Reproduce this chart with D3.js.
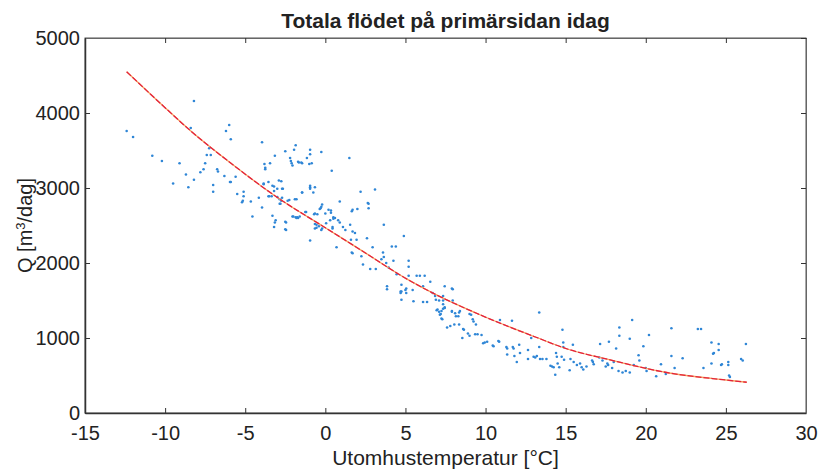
<!DOCTYPE html>
<html>
<head>
<meta charset="utf-8">
<script src="https://cdn.jsdelivr.net/npm/d3@7"></script>
<style>
  body { margin: 0; background: #fff; }
  svg { display: block; font-family: "Liberation Sans", Arial, sans-serif; }
</style>
</head>
<body>
<div id="chart"></div>
<script>
const temp = [
  -12.4, -12.0, -10.8, -10.2, -9.1, -9.5, -8.7, -8.55, -8.2, -8.4, -8.2, -7.8, -7.6, -7.5, -7.4, -7.15,
  -7.25, -7.0, -7.0, -6.75, -6.7, -6.3, -6.2, -6.0, -5.9, -5.9, -5.6, -5.5, -5.1, -5.2, -5.1, -4.65,
  -4.55, -4.15, -3.95, -3.95, -3.8, -3.75, -3.85, -3.5, -3.35, -3.3, -3.2, -3.15, -3.2, -3.15, -2.9, -2.65,
  -2.85, -2.75, -2.5, -2.45, -2.45, -2.35, -2.15, -2.2, -2.1, -2.05, -1.85, -1.9, -1.85, -1.75, -1.65, -1.45,
  -1.45, -1.2, -1.15, -1.0, -0.95, -0.95, -0.85, -0.95, -0.65, -0.75, -0.65, -0.65, -0.55, -0.3, -0.2, -0.25,
  0.0, 0.3, 0.35, 0.4, 0.5, 0.6, 0.8, 0.9, 1.5, 1.7, 2.0, 2.2, 2.65, 2.7, 3.1, 3.65,
  -1.95, -1.7, -1.5, -3.45, -3.75, -5.95, -5.15, -3.85, -3.55, -3.3, -3.2, -3.0, -2.75, -2.7, -3.55, -3.0,
  -2.85, -2.7, -2.8, -3.1, -2.5, -2.5, -2.25, -2.05, -1.8, -1.7, -1.6, -1.25, -0.7, -0.5, -0.65, -0.4,
  -0.2, -0.95, -0.95, -1.45, -0.25, -0.35, 0.2, 0.35, 0.5, 0.9, 0.05, 0.45, 0.45, -0.25, -0.55, -1.8,
  -2.0, -0.95, 1.1, 1.25, 1.65, 2.7, 1.55, 1.7, 1.85, 0.7, 1.65, 1.95, 2.6, 2.25, 2.35, 2.95,
  3.5, 3.65, 4.15, 4.4, 4.25, 2.8, 3.15, 4.9, 3.85, 3.85, 4.75, 4.75, 5.05, 5.05, 1.6, 1.7,
  3.6, 3.8, 3.95, 4.7, 4.75,
  5.2, 5.2, 5.2, 5.0, 5.45, 5.5, 5.7, 5.9, 6.2, 6.1, 6.55, 6.1, 6.35, 6.7, 6.9, 7.0,
  7.1, 7.2, 7.25, 7.35, 7.35, 7.45, 7.35, 7.45, 7.9, 7.95, 7.9, 8.1, 8.35, 7.6, 7.8, 8.3,
  8.05, 8.35, 8.55, 8.65, 8.9, 9.0, 9.1, 9.2, 9.25, 9.4, 9.5, 9.75, 9.95, 10.1, 10.45, 10.8,
  10.9, 11.65, 11.3, 11.35, 11.7, 11.8, 11.95, 12.1, 12.15, 12.65, 12.65, 12.85, 13.0, 13.1, 13.2, 13.35,
  13.35, 13.4, 13.55, 13.8, 4.45, 4.7, 6.85, 7.1, 7.35, 7.45, 7.95, 6.95, 7.25, 7.15, 7.3, 7.9,
  8.15, 8.4, 9.0, 8.6, 9.35, 9.85, 10.5, 10.85, 11.35, 11.75,
  14.05, 14.15, 14.25, 14.35, 14.4, 14.45, 14.5, 14.6, 14.8, 14.85, 14.85, 14.75, 14.9, 15.25, 15.3, 15.45,
  15.5, 15.7, 15.9, 16.0, 16.1, 16.3, 16.65, 16.75, 16.7, 17.15, 17.1, 17.3, 17.5, 17.6, 17.7, 17.65,
  17.9, 18.0, 18.15, 18.35, 18.35, 18.3, 18.55, 18.75, 19.0, 19.0, 19.15, 19.25, 19.55, 19.6, 19.85, 20.0,
  20.05, 20.2, 20.65, 20.95, 21.25, 21.6, 21.6, 21.8, 22.3, 23.25, 23.45, 23.6, 24.1, 24.2, 24.25, 24.1,
  24.55, 24.55, 24.7, 24.75, 25.15, 25.15, 25.25, 25.2, 25.95, 26.05, 26.25
];
const flow = [
  3760, 3680, 3430, 3360, 3330, 3060, 3180, 3010, 4160, 3800, 3110, 3210, 3250, 3330, 3440, 3440,
  3530, 3040, 2950, 3250, 3220, 3160, 3760, 3840, 3650, 3080, 3150, 2920, 2950, 2810, 2890, 2820,
  2620, 2870, 3610, 2740, 3320, 3270, 3050, 2890, 2890, 2630, 2480, 2540, 3020, 3430, 3100, 2990,
  2790, 2830, 3490, 2540, 2440, 2830, 3360, 3400, 3330, 3300, 3570, 2850, 2610, 2610, 3340, 3330,
  2940, 2680, 3400, 3320, 3510, 3450, 3330, 3010, 3010, 2940, 2660, 2520, 2470, 2730, 2780, 3480,
  2660, 2570, 2700, 3230, 2610, 2600, 2570, 2820, 3400, 2710, 2720, 2950, 2800, 2730, 2980, 2510,
  3510, 3350, 3340, 3330, 3250, 3080, 2830, 3060, 3080, 3030, 2960, 2990, 3090, 2990, 2890, 2880,
  2850, 2870, 2790, 2570, 2550, 2450, 2840, 2620, 2850, 2600, 2620, 2680, 2650, 2650, 2460, 2490,
  2460, 3030, 2990, 2940, 2750, 2720, 2710, 2670, 2590, 2540, 2530, 2480, 2460, 2440, 2510, 2600,
  2620, 2300, 2480, 2440, 2690, 2790, 2510, 2420, 2400, 2210, 2140, 2310, 2330, 2090, 1980, 2210,
  2050, 2080, 2220, 2220, 2030, 1920, 1920, 2360, 1690, 1650, 1710, 1620, 1660, 1600, 2310, 2130,
  2140, 2000, 1940, 1620, 1510,
  2030, 1950, 1830, 1640, 1640, 1490, 1830, 1830, 1830, 1690, 1750, 1480, 1480, 1600, 1510, 1380,
  1350, 1320, 1260, 1390, 1450, 1410, 1500, 1690, 1660, 1500, 1350, 1330, 1340, 1140, 1160, 1290,
  1180, 1180, 1000, 1110, 1060, 1030, 1310, 1250, 1220, 1180, 1050, 1040, 940, 950, 900, 960,
  1240, 1230, 880, 780, 880, 760, 680, 910, 800, 840, 720, 1000, 750, 740, 760, 880,
  1340, 720, 720, 720, 1850, 1600, 1560, 1500, 1560, 1400, 1650, 1370, 1360, 1310, 1250, 1360,
  1290, 1360, 1320, 1120, 1050, 930, 890, 950, 860, 860,
  630, 620, 610, 510, 800, 750, 660, 610, 1110, 940, 880, 750, 710, 570, 720, 910,
  680, 640, 660, 610, 580, 620, 700, 650, 680, 920, 740, 700, 620, 660, 950, 640,
  600, 680, 860, 1140, 1030, 560, 540, 560, 540, 990, 1240, 640, 770, 700, 890, 600,
  560, 1040, 490, 650, 520, 1130, 760, 600, 730, 1120, 1120, 600, 940, 790, 800, 660,
  920, 840, 640, 650, 680, 640, 480, 500, 720, 700, 920
];

// fitted curve, read at points along the red line
const fitTemp = [-12.4, -10.1, -8.45, -5.95, -2.9, 0, 2.2, 5.1, 6.75, 9.65, 13.15, 15.15, 17.65, 21.3, 25.0, 26.3];
const fitFlow = [4550, 4090, 3770, 3340, 2860, 2470, 2175, 1785, 1595, 1310, 1010, 850, 715, 540, 440, 410];

const xTicks = [-15, -10, -5, 0, 5, 10, 15, 20, 25, 30];
const yTicks = [0, 1000, 2000, 3000, 4000, 5000];

const width = 819, height = 470;
const margin = { top: 38, right: 13, bottom: 57, left: 85 };
const innerW = width - margin.left - margin.right;
const innerH = height - margin.top - margin.bottom;

const svg = d3.select('#chart').append('svg')
  .attr('width', width)
  .attr('height', height);

const g = svg.append('g')
  .attr('transform', `translate(${margin.left},${margin.top})`);

const x = d3.scaleLinear().domain([-15, 30]).range([0, innerW]);
const y = d3.scaleLinear().domain([0, 5000]).range([innerH, 0]);

// box
g.append('rect')
  .attr('width', innerW)
  .attr('height', innerH)
  .attr('fill', 'none')
  .attr('stroke', '#555')
  .attr('stroke-width', 1);

// scatter
const pts = temp.map((t, i) => ({ t, q: flow[i] }));
g.append('g').selectAll('circle')
  .data(pts)
  .join('circle')
  .attr('cx', d => x(d.t))
  .attr('cy', d => y(d.q))
  .attr('r', 1.3)
  .attr('fill', '#2f86d6');

// fitted curve
const fit = fitTemp.map((t, i) => ({ t, q: fitFlow[i] }));
const line = d3.line()
  .x(d => x(d.t))
  .y(d => y(d.q))
  .curve(d3.curveMonotoneX);

g.append('path')
  .datum(fit)
  .attr('d', line)
  .attr('fill', 'none')
  .attr('stroke', '#f4a460')
  .attr('stroke-width', 1.3);
g.append('path')
  .datum(fit)
  .attr('d', line)
  .attr('fill', 'none')
  .attr('stroke', '#e4223c')
  .attr('stroke-width', 1.3)
  .attr('stroke-dasharray', '6,2');

// axes, ticks pointing inwards; plain hyphen minus like the original
const fmt = d => String(d);
const axisStyle = sel => {
  sel.select('.domain').attr('stroke', '#333').attr('stroke-width', 1.5);
  sel.selectAll('.tick line').attr('stroke', '#333');
  sel.selectAll('.tick text').attr('fill', '#222').style('font-size', '20px');
};

g.append('g')
  .attr('transform', `translate(0,${innerH})`)
  .call(d3.axisBottom(x).tickValues(xTicks).tickFormat(fmt).tickSizeInner(-5).tickSizeOuter(0).tickPadding(13))
  .call(axisStyle);

g.append('g')
  .call(d3.axisLeft(y).tickValues(yTicks).tickFormat(fmt).tickSizeInner(-5).tickSizeOuter(0).tickPadding(5))
  .call(axisStyle);

g.append('g')
  .call(d3.axisTop(x).tickValues(xTicks).tickSizeInner(-5).tickSizeOuter(0).tickFormat(''))
  .call(axisStyle)
  .select('.domain').attr('stroke-width', 1).attr('stroke', '#666');

g.append('g')
  .attr('transform', `translate(${innerW},0)`)
  .call(d3.axisRight(y).tickValues(yTicks).tickSizeInner(-5).tickSizeOuter(0).tickFormat(''))
  .call(axisStyle)
  .select('.domain').attr('stroke-width', 1).attr('stroke', '#666');

// title + axis labels
svg.append('text')
  .attr('x', margin.left + innerW / 2)
  .attr('y', 28)
  .attr('text-anchor', 'middle')
  .style('font-size', '21px')
  .style('font-weight', 'bold')
  .attr('fill', '#222')
  .text('Totala flödet på primärsidan idag');

svg.append('text')
  .attr('x', margin.left + innerW / 2)
  .attr('y', 465)
  .attr('text-anchor', 'middle')
  .style('font-size', '21px')
  .attr('fill', '#222')
  .text('Utomhustemperatur [°C]');

const yLab = svg.append('text')
  .attr('transform', `translate(32,${margin.top + innerH / 2}) rotate(-90)`)
  .attr('text-anchor', 'middle')
  .style('font-size', '20px')
  .attr('fill', '#222');
yLab.append('tspan').text('Q [m');
yLab.append('tspan').attr('baseline-shift', 'super').style('font-size', '13px').text('3');
yLab.append('tspan').text('/dag]');
</script>
</body>
</html>
